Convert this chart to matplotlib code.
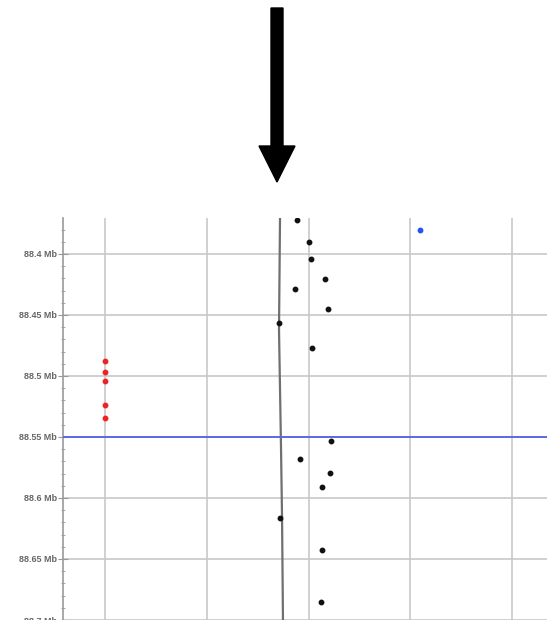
import matplotlib.pyplot as plt
from matplotlib.ticker import MultipleLocator, FuncFormatter
from matplotlib.patches import FancyArrow

plt.rcParams['font.family'] = ['Liberation Sans', 'DejaVu Sans']
plt.rcParams['font.weight'] = 'bold'

# Data (x: track slot, y: position in Mb)
black_x = [2.884, 3.008, 3.022, 3.165, 2.867, 3.189, 2.707, 3.037,
           3.224, 2.916, 3.211, 3.130, 2.723, 3.133, 3.126]
black_y = [88.3721, 88.3904, 88.4043, 88.4207, 88.4284, 88.4448, 88.4566, 88.4773,
           88.5533, 88.5678, 88.5795, 88.5912, 88.6164, 88.6426, 88.6855]

red_x = [1.0, 1.0, 1.0, 1.0, 1.0]
red_y = [88.4875, 88.4965, 88.5043, 88.5238, 88.5344]

blue_x = [4.096]
blue_y = [88.3803]

trace_x = [2.720, 2.710, 2.730, 2.740, 2.749]
trace_y = [88.370, 88.462, 88.560, 88.617, 88.700]

marker_pos = 88.55
grid_x = [1, 2, 3, 4, 5]

fig = plt.figure(figsize=(5.47, 6.20), dpi=100)
ax = fig.add_axes([63 / 547, 0, 1 - 63 / 547, 402 / 620])

ax.set_xlim(0.587, 5.344)
ax.set_ylim(88.70, 88.3705)

# grid
for gx in grid_x:
    ax.axvline(gx, color="#c8c8c8", lw=1.2, zorder=1)
ax.yaxis.set_major_locator(MultipleLocator(0.05))
ax.yaxis.set_minor_locator(MultipleLocator(0.01))
ax.grid(True, axis="y", which="major", color="#c8c8c8", lw=1.2, zorder=1)

# wavy trace line
ax.plot(trace_x, trace_y, color="#707070", lw=1.6, zorder=2)

# marker line
ax.axhline(marker_pos, color="#5a6ae0", lw=1.4, zorder=3)

# points
ax.plot(black_x, black_y, "o", color="#111111", ms=3.2, zorder=4)
ax.plot(red_x, red_y, "o", color="#ee2222", ms=3.2, zorder=4)
ax.plot(blue_x, blue_y, "o", color="#2255ee", ms=3.2, zorder=4)

# axes styling
for side in ["top", "right", "bottom"]:
    ax.spines[side].set_visible(False)
ax.spines["left"].set_color("#999999")
ax.spines["left"].set_linewidth(1.2)
ax.set_xticks([])
ax.yaxis.set_major_formatter(FuncFormatter(lambda v, p: f"{v:g} Mb"))
ax.tick_params(axis="y", which="major", length=7, direction="inout", color="#999999",
               labelsize=6.5, labelcolor="#666666", pad=1)
ax.tick_params(axis="y", which="minor", length=3, direction="inout", color="#999999")

# big arrow at the top
fig.patches.append(FancyArrow(277 / 547, 1 - 8 / 620, 0, -(174 / 620),
                              width=12 / 547, head_width=36 / 547,
                              head_length=36 / 620, length_includes_head=True,
                              transform=fig.transFigure, color="black"))

fig.savefig("out.png", dpi=100)
